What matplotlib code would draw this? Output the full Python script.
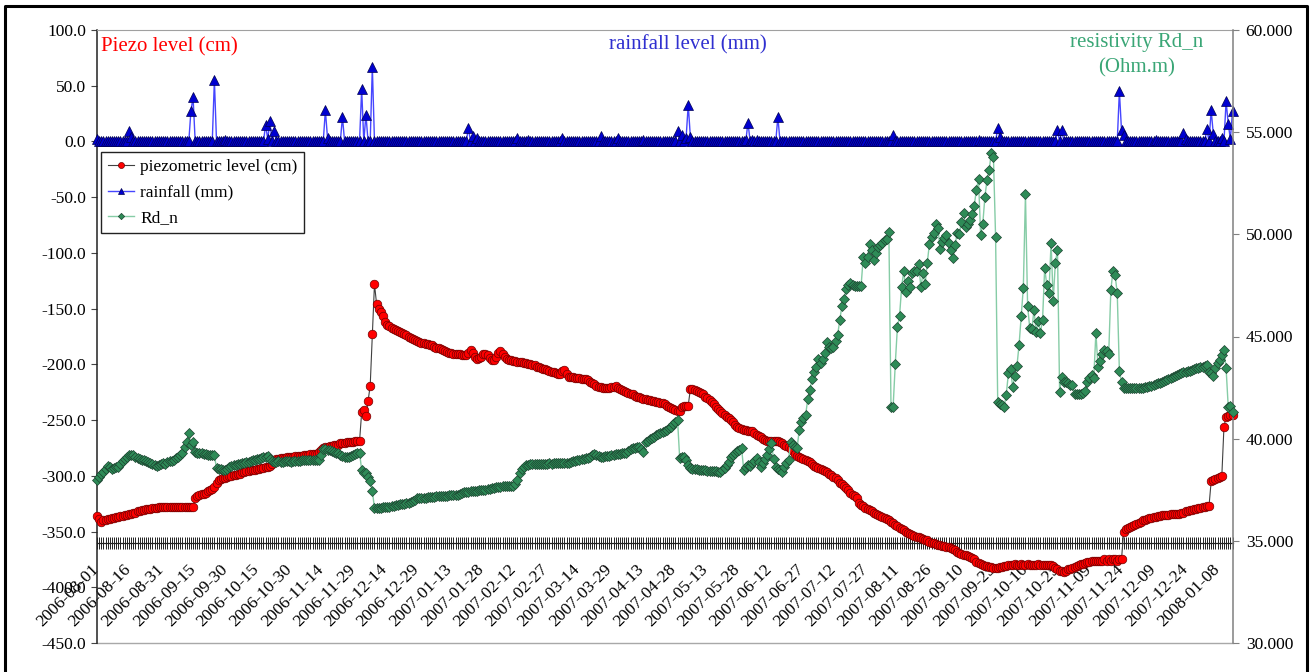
import numpy as np
import pandas as pd
import matplotlib
matplotlib.use("Agg")
from matplotlib import pyplot as plt
from matplotlib.lines import Line2D
from matplotlib.ticker import FormatStrFormatter

plt.rcParams['font.family'] = ['Liberation Serif', 'DejaVu Serif']
plt.rcParams['axes.unicode_minus'] = False

# daily series, first day 2006-08-01
start_date = "2006-08-01"
label_step = 15

piezo = [
    -336, -339, -341, -340, -340, -339, -339, -338, -338, -337,
    -337, -336, -336, -335, -335, -334, -334, -333, -333, -332,
    -332, -331, -331, -330, -330, -330, -329, -329, -329, -328,
    -328, -328, -328, -328, -328, -328, -328, -328, -328,
    -328, -328, -328, -328, -328, -328, -328, -320, -318, -317,
    -316, -316, -315, -314, -313, -312, -310, -306, -304, -303,
    -302, -302, -301, -300, -300, -299, -299, -298, -298, -297,
    -297, -296, -296, -295, -295, -295, -294, -294, -293, -293,
    -292, -292, -291, -289, -287, -285, -285, -284, -284, -284,
    -283, -283, -283, -283, -282, -282, -282, -282, -281, -281,
    -281, -280, -280, -280, -280, -279, -277, -275, -274,
    -274, -273, -273, -272, -272, -272, -271, -271, -271, -270,
    -270, -270, -270, -269, -269, -269, -243, -241, -246, -233,
    -219, -173, -128, -146, -150, -153, -157, -162, -165, -166,
    -167, -168, -169, -170, -171, -172, -173, -174, -175, -176,
    -177, -178, -179, -180, -181, -181, -182, -182, -183, -183,
    -184, -185, -185, -186, -187, -188, -189, -190, -190,
    -191, -191, -191, -191, -192, -192, -192, -190, -187, -190,
    -193, -195, -194, -193, -191, -191, -192, -194, -196, -196,
    -193, -190, -188, -191, -193, -195, -196, -196, -197, -197,
    -198, -198, -198, -199, -199, -200, -200, -201, -201, -202,
    -202, -203, -204, -204, -205, -206, -207, -207, -208, -209,
    -209, -206, -205, -209, -211, -211, -211, -212, -212, -212,
    -213, -213, -213, -214, -216, -217, -218, -219, -220,
    -220, -221, -221, -221, -221, -220, -220, -219, -221, -222,
    -223, -224, -225, -226, -227, -227, -228, -229, -229, -230,
    -231, -231, -232, -232, -233, -233, -234, -234, -235, -235,
    -236, -237, -238, -239, -240, -241, -242, -242, -238, -237,
    -237, -237, -222, -222, -223, -224, -225, -226, -227, -229,
    -230, -232, -234, -236, -238, -240, -242, -244, -245, -247,
    -248, -250, -252, -254, -256, -257, -258, -259, -259,
    -260, -260, -260, -262, -263, -264, -265, -267, -268, -269,
    -269, -269, -269, -269, -269, -270, -271, -272, -273, -274,
    -276, -278, -280, -282, -283, -284, -285, -286, -287, -288,
    -289, -291, -292, -293, -294, -295, -296, -297, -298, -299,
    -301, -302, -304, -306, -307, -309, -311, -313, -315, -317,
    -318, -320, -324, -326, -327, -329, -330, -331, -332,
    -333, -334, -335, -336, -337, -338, -339, -340, -341, -342,
    -344, -345, -347, -348, -349, -350, -351, -352, -353, -354,
    -355, -355, -356, -357, -358, -358, -359, -360, -360, -361,
    -362, -362, -363, -363, -364, -364, -365, -366, -367, -368,
    -369, -370, -371, -371, -372, -373, -374, -375, -377, -378,
    -379, -380, -381, -381, -382, -382, -383, -383, -383, -382,
    -382, -381, -381, -380, -380, -380, -379, -380, -380, -379,
    -380, -380, -379, -380, -380, -380, -380, -379, -380, -380,
    -380, -380, -380, -380, -381, -383, -384, -385, -385, -386,
    -385, -384, -384, -383, -382, -381, -380, -379, -379, -378,
    -377, -377, -376, -376, -376, -376, -376, -376, -375,
    -376, -375, -376, -375, -375, -376, -375, -375, -350, -348,
    -347, -346, -345, -344, -343, -342, -341, -340, -340, -339,
    -338, -338, -337, -337, -336, -336, -335, -335, -335, -335,
    -334, -334, -334, -334, -334, -333, -333, -332, -332,
    -331, -331, -330, -330, -329, -329, -328, -328, -327, -327,
    -305, -304, -303, -302, -301, -300, -256, -247, -246, -245, -245,
]

rd_n = [
    38.0, 38.1, 38.25, 38.38, 38.5, 38.66, 38.6, 38.5, 38.55, 38.6,
    38.63, 38.75, 38.9, 39.0, 39.1, 39.2, 39.2, 39.2, 39.1, 39.05,
    39.0, 38.98, 38.96, 38.9, 38.85, 38.8, 38.75, 38.7, 38.66, 38.7,
    38.75, 38.8, 38.78, 38.87, 38.9, 38.92, 38.98, 39.04, 39.1,
    39.2, 39.28, 39.6, 39.85, 40.29, 39.69, 39.85, 39.36, 39.3, 39.3,
    39.28, 39.26, 39.25, 39.22, 39.2, 39.2, 39.18, 38.55, 38.5, 38.5,
    38.48, 38.47, 38.5, 38.6, 38.65, 38.7, 38.72, 38.75, 38.78, 38.8,
    38.82, 38.85, 38.88, 38.92, 38.95, 38.97, 39.0, 39.02, 39.05, 39.1,
    39.12, 39.15, 39.0, 38.9, 38.87, 38.88, 38.9, 38.88, 38.87, 38.9,
    38.92, 38.9, 38.88, 38.9, 38.92, 38.93, 38.92, 38.94, 38.95, 38.94,
    38.95, 38.96, 38.95, 38.96, 38.96, 38.96, 39.2, 39.48, 39.5,
    39.45, 39.44, 39.4, 39.35, 39.3, 39.28, 39.2, 39.15, 39.1, 39.09,
    39.12, 39.15, 39.2, 39.25, 39.3, 39.31, 38.47, 38.3, 38.3, 38.1,
    37.94, 37.45, 36.59, 36.6, 36.62, 36.63, 36.64, 36.65, 36.66, 36.67,
    36.7, 36.72, 36.74, 36.76, 36.78, 36.8, 36.82, 36.84, 36.85, 36.9,
    36.95, 37.0, 37.08, 37.1, 37.1, 37.11, 37.12, 37.13, 37.14, 37.15,
    37.16, 37.17, 37.18, 37.19, 37.2, 37.2, 37.21, 37.22, 37.23,
    37.23, 37.24, 37.24, 37.3, 37.35, 37.38, 37.4, 37.4, 37.42, 37.44,
    37.45, 37.46, 37.48, 37.48, 37.49, 37.5, 37.52, 37.55, 37.58, 37.6,
    37.62, 37.64, 37.65, 37.66, 37.66, 37.67, 37.67, 37.68, 37.68, 37.8,
    37.98, 38.3, 38.5, 38.63, 38.7, 38.72, 38.74, 38.76, 38.76, 38.77,
    38.77, 38.78, 38.78, 38.77, 38.78, 38.79, 38.78, 38.79, 38.8, 38.79,
    38.8, 38.8, 38.79, 38.8, 38.83, 38.86, 38.9, 38.93, 38.96, 38.98,
    39.0, 39.02, 39.03, 39.04, 39.12, 39.18, 39.23, 39.2, 39.15,
    39.12, 39.12, 39.14, 39.15, 39.17, 39.2, 39.22, 39.24, 39.26, 39.27,
    39.28, 39.28, 39.28, 39.4, 39.5, 39.53, 39.55, 39.58, 39.61, 39.5,
    39.36, 39.85, 39.9, 40.0, 40.05, 40.1, 40.18, 40.22, 40.28, 40.33,
    40.38, 40.42, 40.5, 40.59, 40.7, 40.8, 40.91, 39.04, 39.1, 39.12,
    38.96, 38.7, 38.55, 38.52, 38.5, 38.5, 38.48, 38.47, 38.46, 38.45,
    38.44, 38.43, 38.42, 38.41, 38.4, 38.39, 38.38, 38.45, 38.55, 38.71,
    38.85, 39.12, 39.2, 39.3, 39.4, 39.45, 39.53, 38.47, 38.6,
    38.71, 38.65, 38.8, 38.9, 39.04, 38.85, 38.63, 38.8, 39.0, 39.2,
    39.5, 39.77, 39.0, 38.63, 38.5, 38.45, 38.38, 38.6, 38.8, 38.96,
    39.85, 39.7, 39.6, 39.53, 40.42, 40.8, 41.0, 41.16, 41.93, 42.4,
    42.9, 43.28, 43.5, 43.88, 43.72, 43.9, 44.18, 44.75, 44.5, 44.45,
    44.5, 44.8, 45.07, 45.8, 46.49, 46.82, 47.31, 47.5, 47.6, 47.5,
    47.49, 47.49, 47.49, 47.49, 48.88, 48.58, 48.91, 49.51, 49.23,
    48.74, 49.07, 49.4, 49.5, 49.59, 49.7, 49.76, 50.13, 41.56, 41.56,
    43.65, 45.45, 46.0, 47.44, 48.21, 47.2, 47.72, 47.44, 48.09, 48.21,
    48.21, 48.55, 47.41, 48.09, 47.57, 48.61, 49.53, 49.88, 50.05, 50.51,
    50.3, 49.27, 49.64, 49.8, 49.97, 49.59, 49.23, 48.83, 49.48, 50.05,
    50.02, 50.6, 51.03, 50.34, 50.5, 50.7, 51.0, 51.4, 52.17, 52.7,
    49.97, 50.51, 51.84, 52.66, 53.15, 54.0, 53.77, 49.88, 41.81, 41.7,
    41.65, 41.56, 42.14, 43.2, 43.4, 42.54, 43.07, 43.56, 44.58, 46.0,
    47.39, 51.97, 46.49, 45.43, 45.35, 46.3, 45.24, 45.77, 45.19, 45.8,
    48.34, 47.52, 47.14, 49.59, 46.75, 48.61, 49.23, 42.3, 43.03, 42.79,
    42.75, 42.71, 42.65, 42.63, 42.18, 42.2, 42.2, 42.2, 42.25, 42.35,
    42.79, 42.95, 43.12, 42.95, 45.19, 43.49, 43.82, 44.13, 44.34,
    44.3, 44.13, 47.28, 48.21, 48.01, 47.11, 43.31, 42.79, 42.49, 42.47,
    42.46, 42.46, 42.47, 42.48, 42.46, 42.47, 42.48, 42.5, 42.52, 42.54,
    42.56, 42.6, 42.63, 42.67, 42.7, 42.74, 42.79, 42.83, 42.87, 42.9,
    42.98, 43.02, 43.06, 43.1, 43.15, 43.2, 43.25, 43.28, 43.3,
    43.33, 43.36, 43.4, 43.44, 43.47, 43.5, 43.53, 43.56, 43.6, 43.28,
    43.2, 43.07, 43.44, 43.7, 43.85, 44.1, 44.34, 43.44, 41.56, 41.6, 41.32,
]

# rain: days with rain (index from start_date), everything else 0 mm
rain_days = [0, 15, 16, 44, 45, 55, 60, 79, 80, 81, 83, 107, 108, 115,
             124, 126, 129, 174, 176, 178, 197, 202, 218, 236, 244, 256,
             272, 274, 276, 277, 278, 304, 305, 307, 309, 319, 373, 413,
             422, 423, 450, 452, 479, 480, 481, 496, 509, 510, 520, 522,
             523, 527, 529, 530, 531, 532]
rain_mm = [2, 9, 4, 27, 40, 55, 1, 15, 2, 18, 9, 28, 3, 22,
           47, 24, 67, 12, 5, 3, 3, 1, 3, 5, 3, 1,
           9, 6, 3, 33, 4, 1, 17, 1, 1, 22, 6, 1,
           12, 4, 10, 10, 45, 10, 6, 1, 8, 2, 11, 28,
           7, 3, 36, 16, 2, 27]

n_days = len(piezo)
rain = np.zeros(n_days)
rain[rain_days] = rain_mm
dates = pd.date_range(start_date, periods=n_days, freq="D")

W, H = 1310, 672
fig = plt.figure(figsize=(W / 100, H / 100), dpi=100)
ax = fig.add_axes([97 / W, 1 - 643 / H, (1232.5 - 97) / W, (643 - 30) / H])
ax2 = ax.twinx()

l1, = ax.plot(np.arange(len(piezo)), piezo, color="#404040", lw=0.8,
              marker="o", ms=6.2, mfc="#ff0000", mec="#700000", mew=0.5,
              clip_on=False, zorder=3)
l2, = ax.plot(np.arange(n_days), rain, color="#4646ff", lw=1.0,
              marker="^", ms=6.5, mfc="#0000d0", mec="#000050", mew=0.5,
              clip_on=False, zorder=3)
l3, = ax2.plot(np.arange(len(rd_n)), rd_n, color="#86cca6", lw=1.0,
               marker="D", ms=4.6, mfc="#2e8b57", mec="#1c4430", mew=0.5,
               clip_on=False, zorder=3)

ax.set_xlim(0, n_days - 1)
ax.set_ylim(-450, 100)
ax2.set_ylim(30, 60)
ax.set_yticks(np.arange(-450, 101, 50))
ax2.set_yticks(np.arange(30, 61, 5))
ax.yaxis.set_major_formatter(FormatStrFormatter("%.1f"))
ax2.yaxis.set_major_formatter(FormatStrFormatter("%.3f"))
ax.tick_params(axis="y", direction="out", length=4.5, width=0.8,
               color="#444444", labelsize=12.5, pad=3.5)
ax2.tick_params(axis="y", direction="out", length=4.5, width=0.8,
                color="#808080", labelsize=12.5, pad=5)

# category axis crossing the value axis at -360
ax.spines["bottom"].set_position(("data", -360))
ax.spines["bottom"].set_color("#222222")
ax.spines["bottom"].set_linewidth(0.9)
ax.spines["left"].set_color("#222222")
ax.spines["left"].set_linewidth(1.1)
ax.spines["top"].set_color("#a0a0a0")
ax.spines["right"].set_visible(False)
for s in ["left", "top", "bottom"]:
    ax2.spines[s].set_visible(False)
ax2.spines["right"].set_color("#808080")
ax2.spines["right"].set_linewidth(1.1)
ax.axhline(-450, color="#a8a8a8", lw=1.0, clip_on=False, zorder=1)

major = np.arange(0, n_days, label_step)
ax.set_xticks(major)
ax.set_xticklabels([dates[i].strftime("%Y-%m-%d") for i in major],
                   rotation=45, ha="right", va="center",
                   rotation_mode="anchor")
ax.set_xticks(np.arange(n_days), minor=True)
ax.tick_params(axis="x", which="both", direction="inout", length=9,
               width=0.7, color="#222222")
ax.tick_params(axis="x", which="major", labelsize=12.5, pad=13)

fig.text(101 / W, 1 - 47 / H, "Piezo level (cm)", color="#ff0000",
         fontsize=15, ha="left", va="center")
fig.text(688 / W, 1 - 45 / H, "rainfall level (mm)", color="#3030d0",
         fontsize=15, ha="center", va="center")
fig.text(1137 / W, 1 - 42 / H, "resistivity Rd_n", color="#3aa676",
         fontsize=15, ha="center", va="center")
fig.text(1137 / W, 1 - 68 / H, "(Ohm.m)", color="#3aa676",
         fontsize=15, ha="center", va="center")

leg = ax2.legend([l1, l2, l3], ["piezometric level (cm)", "rainfall (mm)", "Rd_n"],
                 loc="upper left", bbox_to_anchor=(101 / W, 1 - 152 / H),
                 bbox_transform=fig.transFigure, borderaxespad=0,
                 fancybox=False, framealpha=1, edgecolor="#222222",
                 fontsize=12.5, handlelength=1.5, handletextpad=0.35,
                 labelspacing=0.55, borderpad=0.4, markerscale=0.7)
leg.get_frame().set_linewidth(1.0)

# chart area border
fig.add_artist(Line2D([5 / W, 5 / W, 1307 / W, 1307 / W],
                      [-0.1, 1 - 6 / H, 1 - 6 / H, -0.1],
                      transform=fig.transFigure, color="black", lw=2.2))

fig.savefig("out.png", dpi=100)
